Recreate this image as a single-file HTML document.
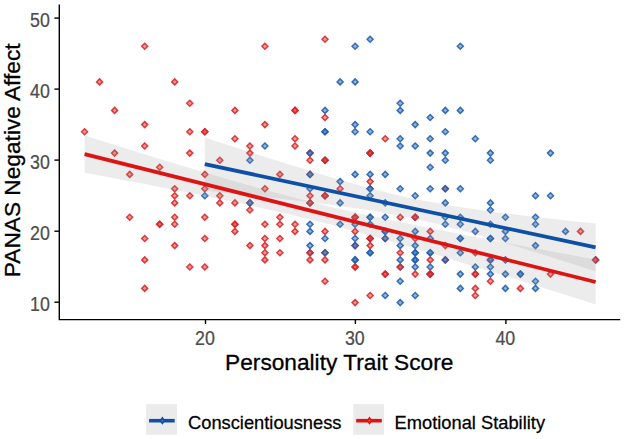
<!DOCTYPE html>
<html><head><meta charset="utf-8"><title>chart</title>
<style>
html,body{margin:0;padding:0;background:#fff;}
body{width:624px;height:439px;overflow:hidden;}
svg{display:block;}
text{font-family:"Liberation Sans",sans-serif;}
.tk{font-size:17.8px;fill:#4d4d4d;stroke:#4d4d4d;stroke-width:0.2px;}
.tt{font-size:22.7px;fill:#000;stroke:#000;stroke-width:0.3px;}
.lg{font-size:18.3px;fill:#000;stroke:#000;stroke-width:0.25px;}
</style></head><body>
<svg width="624" height="439" viewBox="0 0 624 439">
<defs>
<path id="r" d="M0,-3.0 L3.0,0 L0,3.0 L-3.0,0 Z" fill="#dc2828" fill-opacity="0.47" stroke="#d82626" stroke-opacity="0.88" stroke-width="1.5"/>
<path id="b" d="M0,-3.0 L3.0,0 L0,3.0 L-3.0,0 Z" fill="#1f5fb0" fill-opacity="0.47" stroke="#1f5fb0" stroke-opacity="0.88" stroke-width="1.5"/>
</defs>
<rect width="624" height="439" fill="#fff"/>

<g>
<use href="#r" x="144.7" y="46.3"/>
<use href="#r" x="99.6" y="81.9"/>
<use href="#r" x="174.7" y="81.9"/>
<use href="#r" x="189.8" y="103.2"/>
<use href="#r" x="114.6" y="110.4"/>
<use href="#r" x="144.7" y="124.6"/>
<use href="#r" x="84.6" y="131.7"/>
<use href="#r" x="189.8" y="131.7"/>
<use href="#r" x="204.8" y="131.7"/>
<use href="#r" x="204.8" y="131.7"/>
<use href="#r" x="144.7" y="146.0"/>
<use href="#r" x="114.6" y="153.1"/>
<use href="#r" x="189.8" y="153.1"/>
<use href="#r" x="159.7" y="167.3"/>
<use href="#r" x="129.7" y="174.4"/>
<use href="#r" x="204.8" y="174.4"/>
<use href="#r" x="174.7" y="188.7"/>
<use href="#r" x="204.8" y="188.7"/>
<use href="#r" x="174.7" y="195.8"/>
<use href="#r" x="189.8" y="195.8"/>
<use href="#r" x="174.7" y="202.9"/>
<use href="#r" x="129.7" y="217.2"/>
<use href="#r" x="174.7" y="217.2"/>
<use href="#r" x="204.8" y="217.2"/>
<use href="#r" x="159.7" y="224.3"/>
<use href="#r" x="159.7" y="224.3"/>
<use href="#r" x="174.7" y="224.3"/>
<use href="#r" x="144.7" y="238.5"/>
<use href="#r" x="204.8" y="238.5"/>
<use href="#r" x="174.7" y="245.6"/>
<use href="#r" x="144.7" y="259.9"/>
<use href="#r" x="189.8" y="267.0"/>
<use href="#r" x="204.8" y="267.0"/>
<use href="#r" x="144.7" y="288.4"/>
<use href="#r" x="325.0" y="39.2"/>
<use href="#r" x="264.9" y="46.3"/>
<use href="#r" x="234.9" y="110.4"/>
<use href="#r" x="295.0" y="110.4"/>
<use href="#r" x="295.0" y="110.4"/>
<use href="#r" x="325.0" y="117.5"/>
<use href="#r" x="264.9" y="124.6"/>
<use href="#r" x="234.9" y="138.8"/>
<use href="#r" x="295.0" y="138.8"/>
<use href="#r" x="249.9" y="146.0"/>
<use href="#r" x="295.0" y="146.0"/>
<use href="#r" x="249.9" y="153.1"/>
<use href="#r" x="219.8" y="160.2"/>
<use href="#r" x="279.9" y="174.4"/>
<use href="#r" x="264.9" y="188.7"/>
<use href="#r" x="219.8" y="195.8"/>
<use href="#r" x="219.8" y="202.9"/>
<use href="#r" x="234.9" y="202.9"/>
<use href="#r" x="249.9" y="202.9"/>
<use href="#r" x="249.9" y="210.0"/>
<use href="#r" x="279.9" y="217.2"/>
<use href="#r" x="279.9" y="224.3"/>
<use href="#r" x="234.9" y="224.3"/>
<use href="#r" x="234.9" y="224.3"/>
<use href="#r" x="234.9" y="231.4"/>
<use href="#r" x="264.9" y="224.3"/>
<use href="#r" x="295.0" y="224.3"/>
<use href="#r" x="295.0" y="231.4"/>
<use href="#r" x="264.9" y="238.5"/>
<use href="#r" x="279.9" y="238.5"/>
<use href="#r" x="249.9" y="245.6"/>
<use href="#r" x="264.9" y="245.6"/>
<use href="#r" x="264.9" y="252.8"/>
<use href="#r" x="279.9" y="252.8"/>
<use href="#r" x="264.9" y="259.9"/>
<use href="#r" x="385.2" y="138.8"/>
<use href="#r" x="310.0" y="160.2"/>
<use href="#r" x="340.1" y="188.7"/>
<use href="#r" x="370.1" y="181.6"/>
<use href="#r" x="310.0" y="153.1"/>
<use href="#r" x="310.0" y="174.4"/>
<use href="#r" x="310.0" y="195.8"/>
<use href="#r" x="400.2" y="217.2"/>
<use href="#r" x="355.1" y="231.4"/>
<use href="#r" x="325.0" y="231.4"/>
<use href="#r" x="370.1" y="245.6"/>
<use href="#r" x="400.2" y="252.8"/>
<use href="#r" x="310.0" y="259.9"/>
<use href="#r" x="325.0" y="259.9"/>
<use href="#r" x="355.1" y="267.0"/>
<use href="#r" x="355.1" y="267.0"/>
<use href="#r" x="385.2" y="274.1"/>
<use href="#r" x="385.2" y="274.1"/>
<use href="#r" x="325.0" y="281.2"/>
<use href="#r" x="370.1" y="295.5"/>
<use href="#r" x="355.1" y="302.6"/>
<use href="#r" x="430.2" y="231.4"/>
<use href="#r" x="415.2" y="238.5"/>
<use href="#r" x="445.3" y="245.6"/>
<use href="#r" x="475.3" y="252.8"/>
<use href="#r" x="430.2" y="259.9"/>
<use href="#r" x="445.3" y="188.7"/>
<use href="#r" x="445.3" y="259.9"/>
<use href="#r" x="490.4" y="259.9"/>
<use href="#r" x="355.1" y="245.6"/>
<use href="#r" x="385.2" y="238.5"/>
<use href="#r" x="325.0" y="252.8"/>
<use href="#r" x="415.2" y="274.1"/>
<use href="#r" x="475.3" y="274.1"/>
<use href="#r" x="475.3" y="274.1"/>
<use href="#r" x="475.3" y="288.4"/>
<use href="#r" x="475.3" y="295.5"/>
<use href="#r" x="490.4" y="281.2"/>
<use href="#r" x="580.5" y="231.4"/>
<use href="#r" x="520.4" y="288.4"/>
<use href="#r" x="550.5" y="274.1"/>
<use href="#b" x="204.8" y="195.8"/>
<use href="#b" x="355.1" y="46.3"/>
<use href="#b" x="370.1" y="39.2"/>
<use href="#b" x="340.1" y="81.9"/>
<use href="#b" x="355.1" y="81.9"/>
<use href="#b" x="325.0" y="110.4"/>
<use href="#b" x="355.1" y="124.6"/>
<use href="#b" x="264.9" y="146.0"/>
<use href="#b" x="249.9" y="160.2"/>
<use href="#b" x="249.9" y="202.9"/>
<use href="#b" x="355.1" y="131.7"/>
<use href="#b" x="325.0" y="131.7"/>
<use href="#b" x="325.0" y="131.7"/>
<use href="#b" x="370.1" y="131.7"/>
<use href="#b" x="400.2" y="138.8"/>
<use href="#b" x="400.2" y="146.0"/>
<use href="#b" x="310.0" y="153.1"/>
<use href="#b" x="310.0" y="174.4"/>
<use href="#b" x="355.1" y="174.4"/>
<use href="#b" x="370.1" y="174.4"/>
<use href="#b" x="385.2" y="174.4"/>
<use href="#b" x="340.1" y="181.6"/>
<use href="#b" x="370.1" y="188.7"/>
<use href="#b" x="370.1" y="188.7"/>
<use href="#b" x="310.0" y="188.7"/>
<use href="#b" x="400.2" y="188.7"/>
<use href="#b" x="325.0" y="160.2"/>
<use href="#b" x="415.2" y="124.6"/>
<use href="#b" x="415.2" y="146.0"/>
<use href="#b" x="430.2" y="138.8"/>
<use href="#b" x="430.2" y="153.1"/>
<use href="#b" x="430.2" y="167.3"/>
<use href="#b" x="430.2" y="188.7"/>
<use href="#b" x="445.3" y="131.7"/>
<use href="#b" x="445.3" y="153.1"/>
<use href="#b" x="445.3" y="160.2"/>
<use href="#b" x="445.3" y="188.7"/>
<use href="#b" x="460.3" y="188.7"/>
<use href="#b" x="475.3" y="138.8"/>
<use href="#b" x="490.4" y="153.1"/>
<use href="#b" x="490.4" y="160.2"/>
<use href="#b" x="430.2" y="117.5"/>
<use href="#b" x="415.2" y="195.8"/>
<use href="#b" x="400.2" y="103.2"/>
<use href="#b" x="400.2" y="110.4"/>
<use href="#b" x="445.3" y="110.4"/>
<use href="#b" x="460.3" y="110.4"/>
<use href="#b" x="460.3" y="46.3"/>
<use href="#b" x="445.3" y="202.9"/>
<use href="#b" x="490.4" y="202.9"/>
<use href="#b" x="490.4" y="210.0"/>
<use href="#b" x="550.5" y="153.1"/>
<use href="#b" x="340.1" y="202.9"/>
<use href="#b" x="370.1" y="195.8"/>
<use href="#b" x="385.2" y="202.9"/>
<use href="#b" x="370.1" y="217.2"/>
<use href="#b" x="370.1" y="217.2"/>
<use href="#b" x="385.2" y="217.2"/>
<use href="#b" x="310.0" y="224.3"/>
<use href="#b" x="310.0" y="231.4"/>
<use href="#b" x="340.1" y="224.3"/>
<use href="#b" x="355.1" y="224.3"/>
<use href="#b" x="355.1" y="238.5"/>
<use href="#b" x="355.1" y="245.6"/>
<use href="#b" x="325.0" y="238.5"/>
<use href="#b" x="370.1" y="252.8"/>
<use href="#b" x="370.1" y="252.8"/>
<use href="#b" x="385.2" y="231.4"/>
<use href="#b" x="385.2" y="231.4"/>
<use href="#b" x="385.2" y="238.5"/>
<use href="#b" x="400.2" y="238.5"/>
<use href="#b" x="400.2" y="245.6"/>
<use href="#b" x="400.2" y="259.9"/>
<use href="#b" x="310.0" y="245.6"/>
<use href="#b" x="325.0" y="252.8"/>
<use href="#b" x="355.1" y="259.9"/>
<use href="#b" x="355.1" y="259.9"/>
<use href="#b" x="310.0" y="202.9"/>
<use href="#b" x="310.0" y="252.8"/>
<use href="#b" x="400.2" y="281.2"/>
<use href="#b" x="385.2" y="295.5"/>
<use href="#b" x="400.2" y="302.6"/>
<use href="#b" x="400.2" y="267.0"/>
<use href="#b" x="460.3" y="217.2"/>
<use href="#b" x="505.4" y="217.2"/>
<use href="#b" x="445.3" y="224.3"/>
<use href="#b" x="460.3" y="224.3"/>
<use href="#b" x="490.4" y="224.3"/>
<use href="#b" x="415.2" y="231.4"/>
<use href="#b" x="475.3" y="231.4"/>
<use href="#b" x="505.4" y="231.4"/>
<use href="#b" x="430.2" y="238.5"/>
<use href="#b" x="460.3" y="238.5"/>
<use href="#b" x="460.3" y="238.5"/>
<use href="#b" x="490.4" y="238.5"/>
<use href="#b" x="490.4" y="238.5"/>
<use href="#b" x="505.4" y="238.5"/>
<use href="#b" x="415.2" y="245.6"/>
<use href="#b" x="415.2" y="252.8"/>
<use href="#b" x="415.2" y="252.8"/>
<use href="#b" x="430.2" y="252.8"/>
<use href="#b" x="430.2" y="252.8"/>
<use href="#b" x="460.3" y="252.8"/>
<use href="#b" x="415.2" y="259.9"/>
<use href="#b" x="415.2" y="259.9"/>
<use href="#b" x="445.3" y="259.9"/>
<use href="#b" x="490.4" y="259.9"/>
<use href="#b" x="415.2" y="267.0"/>
<use href="#b" x="415.2" y="295.5"/>
<use href="#b" x="430.2" y="267.0"/>
<use href="#b" x="460.3" y="274.1"/>
<use href="#b" x="460.3" y="288.4"/>
<use href="#b" x="475.3" y="267.0"/>
<use href="#b" x="490.4" y="267.0"/>
<use href="#b" x="490.4" y="274.1"/>
<use href="#b" x="505.4" y="274.1"/>
<use href="#b" x="505.4" y="288.4"/>
<use href="#b" x="505.4" y="259.9"/>
<use href="#b" x="430.2" y="274.1"/>
<use href="#b" x="535.5" y="195.8"/>
<use href="#b" x="550.5" y="195.8"/>
<use href="#b" x="535.5" y="217.2"/>
<use href="#b" x="535.5" y="224.3"/>
<use href="#b" x="565.5" y="231.4"/>
<use href="#b" x="535.5" y="245.6"/>
<use href="#b" x="595.6" y="259.9"/>
<use href="#b" x="520.4" y="274.1"/>
<use href="#b" x="520.4" y="274.1"/>
<use href="#b" x="535.5" y="281.2"/>
<use href="#b" x="535.5" y="288.4"/>
<use href="#b" x="370.1" y="224.3"/>
<use href="#b" x="445.3" y="217.2"/>
<use href="#b" x="370.1" y="153.1"/>
<use href="#b" x="325.0" y="195.8"/>
<use href="#b" x="355.1" y="217.2"/>
<use href="#b" x="370.1" y="238.5"/>
<use href="#b" x="415.2" y="217.2"/>
<use href="#r" x="370.1" y="153.1"/>
<use href="#r" x="370.1" y="153.1"/>
<use href="#r" x="325.0" y="160.2"/>
<use href="#r" x="325.0" y="160.2"/>
<use href="#r" x="310.0" y="202.9"/>
<use href="#r" x="325.0" y="195.8"/>
<use href="#r" x="325.0" y="195.8"/>
<use href="#r" x="355.1" y="217.2"/>
<use href="#r" x="355.1" y="217.2"/>
<use href="#r" x="370.1" y="238.5"/>
<use href="#r" x="370.1" y="238.5"/>
<use href="#r" x="310.0" y="252.8"/>
<use href="#r" x="400.2" y="267.0"/>
<use href="#r" x="415.2" y="217.2"/>
<use href="#r" x="415.2" y="217.2"/>
<use href="#r" x="430.2" y="274.1"/>
<use href="#r" x="430.2" y="274.1"/>
<use href="#r" x="595.6" y="259.9"/>
</g>
<polygon points="204.8,137.6 214.6,140.8 224.3,143.9 234.1,147.0 243.9,150.2 253.6,153.3 263.4,156.4 273.2,159.4 283.0,162.5 292.7,165.6 302.5,168.6 312.3,171.5 322.0,174.5 331.8,177.4 341.6,180.3 351.3,183.1 361.1,185.8 370.9,188.4 380.7,191.0 390.4,193.4 400.2,195.7 410.0,197.9 419.7,199.9 429.5,201.8 439.3,203.6 449.0,205.3 458.8,206.9 468.6,208.3 478.3,209.8 488.1,211.1 497.9,212.4 507.7,213.6 517.4,214.8 527.2,216.0 537.0,217.1 546.7,218.2 556.5,219.3 566.3,220.4 576.0,221.4 585.8,222.5 595.6,223.5 595.6,271.3 585.8,268.2 576.0,265.1 566.3,262.0 556.5,258.9 546.7,255.8 537.0,252.7 527.2,249.7 517.4,246.7 507.7,243.7 497.9,240.8 488.1,237.9 478.3,235.1 468.6,232.3 458.8,229.7 449.0,227.1 439.3,224.6 429.5,222.2 419.7,219.9 410.0,217.8 400.2,215.8 390.4,214.0 380.7,212.2 370.9,210.6 361.1,209.1 351.3,207.7 341.6,206.3 331.8,205.0 322.0,203.7 312.3,202.5 302.5,201.3 292.7,200.2 283.0,199.0 273.2,197.9 263.4,196.9 253.6,195.8 243.9,194.7 234.1,193.7 224.3,192.7 214.6,191.6 204.8,190.6" fill="#999" fill-opacity="0.185"/>
<polygon points="84.6,135.6 97.3,139.6 110.1,143.6 122.9,147.6 135.7,151.5 148.4,155.5 161.2,159.4 174.0,163.3 186.8,167.1 199.5,171.0 212.3,174.8 225.1,178.5 237.9,182.2 250.6,185.8 263.4,189.4 276.2,192.8 289.0,196.2 301.7,199.5 314.5,202.8 327.3,205.9 340.1,208.9 352.8,211.8 365.6,214.7 378.4,217.5 391.2,220.2 403.9,222.8 416.7,225.5 429.5,228.0 442.3,230.6 455.0,233.1 467.8,235.6 480.6,238.0 493.4,240.5 506.2,242.9 518.9,245.3 531.7,247.7 544.5,250.1 557.3,252.5 570.0,254.8 582.8,257.2 595.6,259.5 595.6,304.4 582.8,300.3 570.0,296.3 557.3,292.3 544.5,288.3 531.7,284.3 518.9,280.3 506.2,276.3 493.4,272.3 480.6,268.4 467.8,264.4 455.0,260.5 442.3,256.6 429.5,252.8 416.7,249.0 403.9,245.2 391.2,241.5 378.4,237.8 365.6,234.2 352.8,230.7 340.1,227.2 327.3,223.8 314.5,220.6 301.7,217.4 289.0,214.3 276.2,211.3 263.4,208.4 250.6,205.6 237.9,202.8 225.1,200.1 212.3,197.4 199.5,194.8 186.8,192.3 174.0,189.7 161.2,187.2 148.4,184.8 135.7,182.3 122.9,179.9 110.1,177.5 97.3,175.1 84.6,172.7" fill="#999" fill-opacity="0.185"/>
<line x1="204.8" y1="164.1" x2="595.6" y2="247.4" stroke="#0d50a6" stroke-width="3.7"/>
<line x1="84.6" y1="154.1" x2="595.6" y2="282.0" stroke="#dc1414" stroke-width="3.7"/>
<g stroke="#000" stroke-width="1.4" fill="none">
<path d="M59.3,4.5 V319.6 H620.2"/>
<path d="M54.4,302.2 H59.3"/>
<path d="M54.4,231.2 H59.3"/>
<path d="M54.4,160.1 H59.3"/>
<path d="M54.4,89.1 H59.3"/>
<path d="M54.4,18.1 H59.3"/>
<path d="M205.5,319.5 V324"/>
<path d="M355.4,319.5 V324"/>
<path d="M505.9,319.5 V324"/>
</g>
<text class="tk" transform="translate(49.8,310.9) scale(1,1.125)" text-anchor="end">10</text>
<text class="tk" transform="translate(49.8,239.9) scale(1,1.125)" text-anchor="end">20</text>
<text class="tk" transform="translate(49.8,168.8) scale(1,1.125)" text-anchor="end">30</text>
<text class="tk" transform="translate(49.8,97.8) scale(1,1.125)" text-anchor="end">40</text>
<text class="tk" transform="translate(49.8,26.8) scale(1,1.125)" text-anchor="end">50</text>
<text class="tk" transform="translate(204.9,344.7) scale(1,1.125)" text-anchor="middle">20</text>
<text class="tk" transform="translate(354.79999999999995,344.7) scale(1,1.125)" text-anchor="middle">30</text>
<text class="tk" transform="translate(505.29999999999995,344.7) scale(1,1.125)" text-anchor="middle">40</text>
<text class="tt" x="339.2" y="369.9" text-anchor="middle">Personality Trait Score</text>
<text class="tt" transform="translate(20.2,160.3) rotate(-90)" text-anchor="middle">PANAS Negative Affect</text>
<rect x="146.2" y="404.1" width="30.8" height="30.7" fill="#ebebeb"/><line x1="149.1" y1="420.7" x2="174.7" y2="420.7" stroke="#0d50a6" stroke-width="3.6"/><path d="M162.39999999999998,416.59999999999997 l3.0,4.1 l-3.0,4.1 l-3.0,-4.1 Z" fill="#0d50a6"/><circle cx="162.39999999999998" cy="420.7" r="0.9" fill="#4f7fc0"/>
<rect x="353.3" y="404.1" width="30.8" height="30.7" fill="#ebebeb"/><line x1="356.2" y1="420.7" x2="381.8" y2="420.7" stroke="#dc1414" stroke-width="3.6"/><path d="M369.5,416.59999999999997 l3.0,4.1 l-3.0,4.1 l-3.0,-4.1 Z" fill="#dc1414"/><circle cx="369.5" cy="420.7" r="0.9" fill="#e35a5a"/>
<text class="lg" transform="translate(188.0,429.0) scale(1,1.05)">Conscientiousness</text>
<text class="lg" transform="translate(394.6,429.0) scale(1,1.05)">Emotional Stability</text>
</svg></body></html>
